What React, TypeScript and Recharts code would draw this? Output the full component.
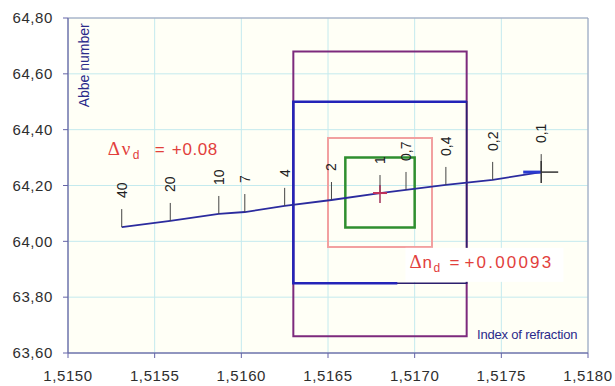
import {
  CartesianGrid,
  ComposedChart,
  Line,
  ReferenceArea,
  Scatter,
  XAxis,
  YAxis,
} from 'recharts';

const N_TICKS = [1.515, 1.5155, 1.516, 1.5165, 1.517, 1.5175, 1.518];
const V_TICKS = [63.6, 63.8, 64.0, 64.2, 64.4, 64.6, 64.8];

// cooling-rate points along the annealing curve
const RATE_LABELS = ['40', '20', '10', '7', '4', '2', '1', '0,7', '0,4', '0,2', '0,1'];
const RATE_N = [1.51531, 1.51559, 1.51587, 1.51602, 1.51625, 1.51652, 1.5168, 1.51695, 1.51718, 1.51745, 1.51773];
const RATE_V = [64.051, 64.073, 64.098, 64.105, 64.127, 64.148, 64.173, 64.184, 64.202, 64.22, 64.248];

// tolerance boxes: [nMin, nMax, vMin, vMax]
const OUTER_BOX = [1.5163, 1.5173, 63.66, 64.68];
const INNER_BOX = [1.5163, 1.5173, 63.85, 64.5];
const PINK_BOX = [1.5165, 1.5171, 63.98, 64.37];
const GREEN_BOX = [1.5166, 1.517, 64.05, 64.3];

// blue partial outline of the inner box
const EDGE_N = [1.5169, 1.5163, 1.5163, 1.5173];
const EDGE_V = [63.85, 63.85, 64.5, 64.5];

const NOMINAL = { n: 1.5168, v: 64.173 };
const END_POINT = { n: 1.51773, v: 64.248 };

// annotation anchors
const NU_NOTE = { n: 1.51523, v: 64.31 };
const ND_NOTE = { n: 1.51697, v: 63.905 };
const Y_TITLE = { n: 1.51512, v: 64.48 };
const X_TITLE = { n: 1.51736, v: 63.65 };

const curve = RATE_N.map((n, i) => ({ n, v: RATE_V[i], label: RATE_LABELS[i] }));
const edge = EDGE_N.map((n, i) => ({ n, v: EDGE_V[i] }));

const SANS = 'Liberation Sans, Arial, sans-serif';
const SERIF = 'Liberation Serif, Times New Roman, serif';

// error-bar style tick above each point, label rotated to read upwards
function RateMark(props: any) {
  const { cx, cy, payload } = props;
  return (
    <g>
      <line x1={cx} y1={cy} x2={cx} y2={cy - 18} stroke="#444" strokeWidth={1} />
      <text
        transform={`translate(${cx + 5},${cy - 29}) rotate(-90)`}
        fontSize={14}
        fontFamily={SANS}
        fill="#222"
      >
        {payload.label}
      </text>
    </g>
  );
}

function NominalMark({ cx, cy }: any) {
  return (
    <g>
      <line x1={cx} y1={cy - 8} x2={cx} y2={cy + 10} stroke="#a03058" strokeWidth={1.5} />
      <line x1={cx - 7} y1={cy} x2={cx + 7} y2={cy} stroke="#c0305a" strokeWidth={2} />
    </g>
  );
}

function EndMark({ cx, cy }: any) {
  return (
    <g>
      <line x1={cx - 18} y1={cy} x2={cx} y2={cy} stroke="#2a3ad0" strokeWidth={3} />
      <line x1={cx} y1={cy} x2={cx + 17} y2={cy} stroke="#333" strokeWidth={1.5} />
      <line x1={cx} y1={cy - 11} x2={cx} y2={cy + 11} stroke="#333" strokeWidth={1.5} />
    </g>
  );
}

function NuNote({ cx, cy }: any) {
  return (
    <text y={cy} fill="#e2403c" fontFamily={SANS}>
      <tspan x={cx} fontFamily={SERIF} fontSize={19}>Δ</tspan>
      <tspan x={cx + 14} fontFamily={SERIF} fontSize={19}>ν</tspan>
      <tspan x={cx + 25} dy={4} fontSize={12}>d</tspan>
      <tspan x={cx + 47} dy={-4} fontSize={17}>=</tspan>
      <tspan x={cx + 64} fontSize={17} letterSpacing={0.6}>+0.08</tspan>
    </text>
  );
}

function NdNote({ cx, cy }: any) {
  return (
    <g>
      <rect x={cx - 4} y={cy - 20} width={158} height={34} fill="#fff" />
      <text y={cy} fill="#e2403c" fontFamily={SANS}>
        <tspan x={cx} fontFamily={SERIF} fontSize={19}>Δ</tspan>
        <tspan x={cx + 13} fontSize={17}>n</tspan>
        <tspan x={cx + 24} dy={4} fontSize={12}>d</tspan>
        <tspan x={cx + 40} dy={-4} fontSize={17}>=</tspan>
        <tspan x={cx + 55} fontSize={17} letterSpacing={2.2}>+0.00093</tspan>
      </text>
    </g>
  );
}

function YTitle({ cx, cy }: any) {
  return (
    <text transform={`translate(${cx},${cy}) rotate(-90)`} fontSize={14} fontFamily={SANS} fill="#2a2a8a">
      Abbe number
    </text>
  );
}

function XTitle({ cx, cy }: any) {
  return (
    <text x={cx} y={cy} fontSize={13} fontFamily={SANS} fill="#2a2a8a" letterSpacing={-0.2}>
      Index of refraction
    </text>
  );
}

const tickStyle = { fill: '#2e2e2e', fontSize: 15, fontFamily: SANS, letterSpacing: 0.6 };

export default function App() {
  const box = (b: number[], stroke: string, w: number) => (
    <ReferenceArea
      x1={b[0]}
      x2={b[1]}
      y1={b[2]}
      y2={b[3]}
      fill="none"
      fillOpacity={0}
      stroke={stroke}
      strokeWidth={w}
    />
  );
  return (
    <div style={{ position: 'absolute', left: 0, top: 0, width: 615, height: 386, background: '#fff', fontFamily: SANS }}>
      <ComposedChart width={615} height={386} margin={{ top: 18, right: 27, bottom: 0, left: 0 }}>
        <CartesianGrid stroke="#c4eaee" fill="#fffff6" />
        <XAxis
          dataKey="n"
          type="number"
          domain={[1.515, 1.518]}
          ticks={N_TICKS}
          allowDataOverflow
          height={33}
          tickSize={5}
          tickMargin={12}
          stroke="#6464a8"
          tick={tickStyle}
          tickFormatter={(v: number) => v.toFixed(4).replace('.', ',')}
        />
        <YAxis
          dataKey="v"
          type="number"
          domain={[63.6, 64.8]}
          ticks={V_TICKS}
          allowDataOverflow
          width={68}
          tickSize={5}
          tickMargin={10}
          stroke="#6464a8"
          tick={tickStyle}
          tickFormatter={(v: number) => v.toFixed(2).replace('.', ',')}
        />
        <ReferenceArea x1={1.515} x2={1.518} y1={63.6} y2={64.8} fill="none" fillOpacity={0} stroke="#9a9ab8" strokeWidth={1} />
        {box(OUTER_BOX, '#7d2a7d', 2)}
        {box(INNER_BOX, '#2c1f6e', 1.5)}
        {box(PINK_BOX, '#f2a0a0', 2)}
        {box(GREEN_BOX, '#2f8f2f', 2.5)}
        <Line data={edge} dataKey="v" stroke="#2424b8" strokeWidth={2.5} dot={false} isAnimationActive={false} />
        <Line data={curve} dataKey="v" stroke="#2b2b9e" strokeWidth={1.8} dot={false} isAnimationActive={false} />
        <Scatter data={curve} dataKey="v" shape={RateMark} isAnimationActive={false} />
        <Scatter data={[NOMINAL]} dataKey="v" shape={NominalMark} isAnimationActive={false} />
        <Scatter data={[END_POINT]} dataKey="v" shape={EndMark} isAnimationActive={false} />
        <Scatter data={[NU_NOTE]} dataKey="v" shape={NuNote} isAnimationActive={false} />
        <Scatter data={[ND_NOTE]} dataKey="v" shape={NdNote} isAnimationActive={false} />
        <Scatter data={[Y_TITLE]} dataKey="v" shape={YTitle} isAnimationActive={false} />
        <Scatter data={[X_TITLE]} dataKey="v" shape={XTitle} isAnimationActive={false} />
      </ComposedChart>
    </div>
  );
}
